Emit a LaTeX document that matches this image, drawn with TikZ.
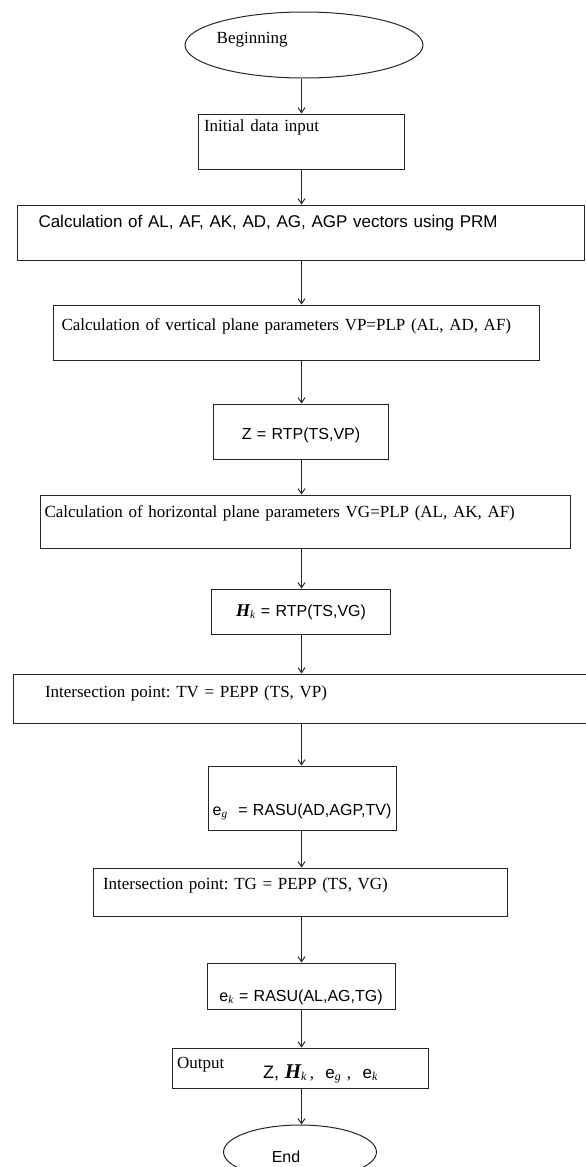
\documentclass[tikz,border=0pt]{standalone}
\usepackage{fontspec}
\setmainfont{Liberation Serif}
\setsansfont{Liberation Sans}
\usepackage{tikz}
\usetikzlibrary{arrows.meta, positioning}
\usetikzlibrary{shapes}
\usetikzlibrary{calc}

\newcommand\serifsize{\frenchspacing\fontsize{17}{19}\selectfont}
\newcommand\sanssize{\sffamily\fontsize{16}{19}\selectfont}

\begin{document}
\begin{tikzpicture}[
  x=1pt, y=-1pt,
  stepbox/.style={rectangle, draw=black!85, line width=1pt, inner ysep=0pt, align=left, font=\serifsize},
  sansbox/.style={stepbox, align=center, font=\sanssize},
  terminal/.style={ellipse, draw=black!85, line width=1pt, inner sep=0pt},
  arr/.style={draw=black!85, line width=1pt, -{Straight Barb[length=5pt,width=7pt]}}
]
\useasboundingbox (0,0) rectangle (586,1167);

% Nodes
\coordinate (axis) at (301.5,0);
\node[terminal, minimum width=238pt, minimum height=66pt] (begin) at (304,45) {};
\node[anchor=base west, font=\serifsize, inner sep=0pt] (begintxt) at ([xshift=32pt, yshift=2pt]begin.west) {Beginning};

\node[stepbox, below=35pt of begin, xshift=-3pt, text width=194pt, inner xsep=6pt, text height=17pt, text depth=38pt] (init) {Initial data input};
\node[stepbox, font=\sffamily\fontsize{17}{19}\selectfont, below=35pt of init, text width=525pt, inner xsep=21pt, text height=22pt, text depth=33pt] (vectors) {Calculation of AL, AF, AK, AD, AG, AGP vectors using PRM};
\node[stepbox, below=44pt of vectors, xshift=-4.5pt, text width=470pt, inner xsep=8pt, text height=25pt, text depth=30pt] (vplane) {Calculation of vertical plane parameters VP=PLP (AL, AD, AF)};
\node[sansbox, below=43pt of vplane, xshift=4.5pt, text width=167pt, inner xsep=4pt, text height=35pt, text depth=20pt] (zrtp) {Z = RTP(TS,VP)};
\node[stepbox, below=35pt of zrtp, xshift=4.5pt, text width=522pt, inner xsep=4pt, text height=22pt, text depth=31pt] (hplane) {Calculation of horizontal plane parameters VG=PLP (AL, AK, AF)};
\node[sansbox, below=40pt of hplane, xshift=-4.5pt, text width=171pt, inner xsep=4pt, text height=27pt, text depth=18pt] (hrtp) {{\rmfamily\fontsize{18}{19}\selectfont\bfseries\itshape H}\textsubscript{\rmfamily\itshape k} = RTP(TS,VG)};

% Intersection points
\node[stepbox, below=39pt of hrtp, text width=512pt, inner xsep=32pt, text height=23pt, text depth=26pt] (tvpoint) {Intersection point: TV = PEPP (TS, VP)};
\node[sansbox, below=42pt of tvpoint, xshift=1pt, text width=180pt, inner xsep=4pt, text height=49pt, text depth=15pt] (egrasu) {e\textsubscript{\rmfamily\itshape g}\ \ = RASU(AD,AGP,TV)};
\node[stepbox, below=37pt of egrasu, xshift=-2pt, text width=394pt, inner xsep=10pt, text height=21pt, text depth=27pt] (tgpoint) {Intersection point: TG = PEPP (TS, VG)};
\node[sansbox, below=46pt of tgpoint, xshift=1pt, text width=180pt, inner xsep=4pt, text height=38pt, text depth=8pt] (ekrasu) {e\textsubscript{\rmfamily\itshape k} = RASU(AL,AG,TG)};

% Output and end
\node[stepbox, below=38pt of ekrasu, xshift=-1pt, text width=246pt, inner xsep=5pt, text height=20pt, text depth=20pt] (output) {Output\hspace{39pt}\raisebox{-10pt}{{\sffamily\fontsize{18}{19}\selectfont Z,} {\fontsize{21}{23}\selectfont\bfseries\itshape H}\textsubscript{\itshape k}\,,\ \ {\sffamily e}\textsubscript{\itshape g}\ ,\ \ {\sffamily e}\textsubscript{\itshape k}}};
\node[terminal, below=36pt of output, minimum width=153pt, minimum height=54pt] (finish) {};
\node[anchor=base, font=\sanssize, inner sep=0pt] (endtxt) at ([xshift=-14pt, yshift=-10pt]finish.center) {End};

% Connections
\draw[arr] (begin.south -| axis) -- (init.north -| axis);
\draw[arr] (init.south -| axis) -- (vectors.north -| axis);
\draw[arr] (vectors.south -| axis) -- (vplane.north -| axis);
\draw[arr] (vplane.south -| axis) -- (zrtp.north -| axis);
\draw[arr] (zrtp.south -| axis) -- (hplane.north -| axis);
\draw[arr] (hplane.south -| axis) -- (hrtp.north -| axis);
\draw[arr] (hrtp.south -| axis) -- (tvpoint.north -| axis);
\draw[arr] (tvpoint.south -| axis) -- (egrasu.north -| axis);
\draw[arr] (egrasu.south -| axis) -- (tgpoint.north -| axis);
\draw[arr] (tgpoint.south -| axis) -- (ekrasu.north -| axis);
\draw[arr] (ekrasu.south -| axis) -- (output.north -| axis);
\draw[arr] (output.south -| axis) -- (finish.north -| axis);

\end{tikzpicture}
\end{document}
